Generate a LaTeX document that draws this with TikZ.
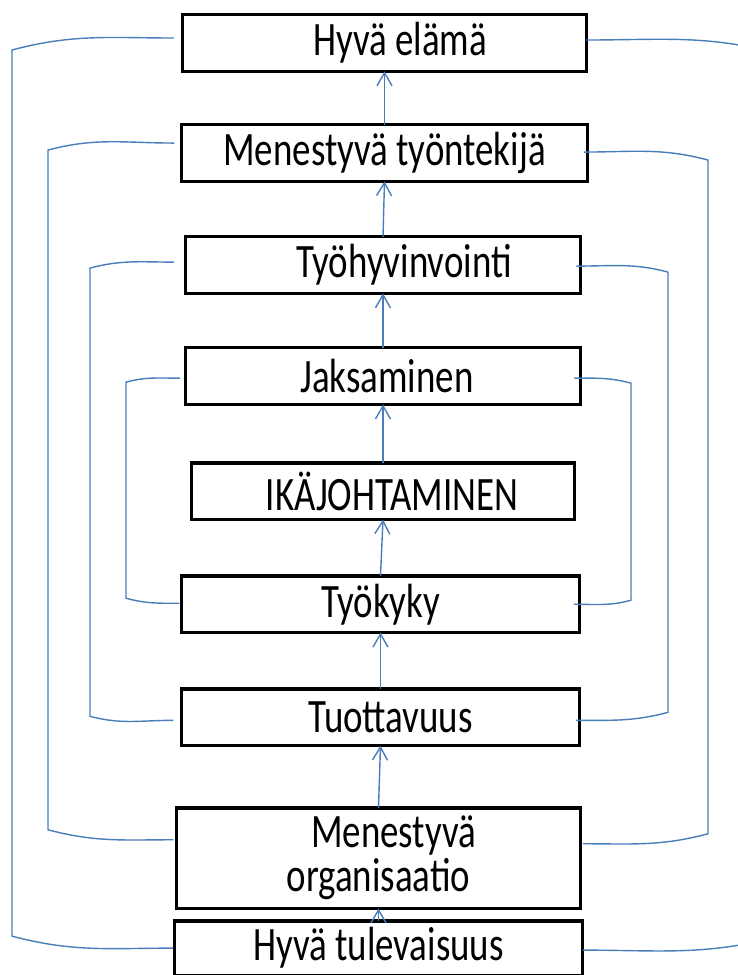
\documentclass[tikz,border=0pt]{standalone}
\usepackage{fontspec}
\setmainfont{Carlito}
\usepackage{graphicx}
\usetikzlibrary{arrows.meta, positioning, calc}
\definecolor{linkblue}{RGB}{74,126,187}
\newcommand{\tall}[1]{\scalebox{1}[1.3]{#1}}

\begin{document}
\begin{tikzpicture}[box/.style={draw, line width=1.9pt, fill=white, inner sep=0pt, outer sep=0pt,
			minimum height=1.134cm, font=\fontsize{21}{25}\selectfont},
		link/.style={draw=linkblue, line width=0.8pt},
		up/.style={link, -{Straight Barb[length=2.6mm, width=3mm]}}]

	\useasboundingbox (0,0) rectangle (14.76,-19.5);
	\clip (0,0) rectangle (14.76,-19.5);

	% Boxes, top to bottom
	\node (elama) [box, minimum width=8.07cm] at (7.69,-0.86) {\tall{\hspace*{0.62cm}Hyvä elämä}};
	\node (tyontekija) [box, minimum width=8.13cm, below=1.067cm of elama] {\tall{Menestyvä työntekijä}};
	\node (hyvinvointi) [box, minimum width=7.89cm, below=1.107cm of tyontekija, xshift=-0.03cm] {\tall{\hspace*{0.84cm}Työhyvinvointi}};
	\node (jaksaminen) [box, minimum width=7.89cm, below=1.087cm of hyvinvointi] {\tall{\hspace*{0.16cm}Jaksaminen}};
	\node (ika) [box, minimum width=7.67cm, below=1.167cm of jaksaminen] {\tall{\hspace*{0.36cm}IKÄJOHTAMINEN}};
	\node (tyokyky) [box, minimum width=7.97cm, below=1.127cm of ika, xshift=-0.05cm] {\tall{Työkyky}};
	\node (tuottavuus) [box, minimum width=7.97cm, below=1.127cm of tyokyky] {\tall{\hspace*{0.4cm}Tuottavuus}};
	\node (organisaatio) [box, minimum width=8.09cm, minimum height=1.953cm, below=1.247cm of tuottavuus, xshift=-0.04cm]
		{\tall{\begin{tabular}{@{}c@{}}\hspace*{0.6cm}Menestyvä\\[-6pt]organisaatio\end{tabular}}};
	\node (tulevaisuus) [box, minimum width=8.17cm, minimum height=1.09cm, below=0.247cm of organisaatio] {\tall{Hyvä tulevaisuus}};

	% Arrows between the boxes
	\draw[up] (tyontekija.north) -- (elama.south);
	\draw[up] (hyvinvointi.north) -- (tyontekija.south);
	\draw[up] (jaksaminen.north) -- (hyvinvointi.south);
	\draw[up] (ika.north) -- (jaksaminen.south);
	\draw[up] (tyokyky.north) -- (ika.south);
	\draw[up] (tuottavuus.north) -- (tyokyky.south);
	\draw[up] (organisaatio.north) -- (tuottavuus.south);
	\draw[up] (tulevaisuus.north) -- (organisaatio.south);

	% x positions of the side lines
	\coordinate (xa) at (0.24,0);
	\coordinate (xb) at (0.96,0);
	\coordinate (xc) at (1.8,0);
	\coordinate (xd) at (2.52,0);
	\coordinate (xe) at (12.62,0);
	\coordinate (xf) at (13.36,0);
	\coordinate (xg) at (14.16,0);
	\coordinate (xh) at (15.6,0);

	% Outer loop
	\draw[link] ([shift={(-0.18,0.1)}]elama.west) to[out=180,in=15] ($(elama.west -| xa)+(0,-0.14)$)
		-- ($(tulevaisuus.west -| xa)+(0,0.24)$) to[out=-15,in=180] ([xshift=-0.02cm]tulevaisuus.west);
	\draw[link] ([yshift=0.06cm]elama.east) to[out=0,in=165] ($(elama.east -| xh)+(0,-0.22)$)
		-- ($(tulevaisuus.east -| xh)+(0,0.24)$) to[out=195,in=0] ([yshift=-0.04cm]tulevaisuus.east);

	% Second loop
	\draw[link] ([shift={(-0.14,0.2)}]tyontekija.west) to[out=180,in=15] ($(tyontekija.west -| xb)+(0,0.06)$)
		-- ($(organisaatio.west -| xb)+(0,0.57)$) to[out=-15,in=180] ([shift={(-0.06,0.37)}]organisaatio.west);
	\draw[link] ([shift={(-0.08,0.02)}]tyontekija.east) to[out=0,in=165] ($(tyontekija.east -| xg)+(0,-0.14)$)
		-- ($(organisaatio.east -| xg)+(0,0.49)$) to[out=195,in=0] ([shift={(0.04,0.29)}]organisaatio.east);

	% Third loop
	\draw[link] ([shift={(-0.24,0.06)}]hyvinvointi.west) to[out=180,in=15] ($(hyvinvointi.west -| xc)+(0,-0.06)$)
		-- ($(tuottavuus.west -| xc)+(0,0.02)$) to[out=-15,in=180] ([shift={(-0.16,-0.06)}]tuottavuus.west);
	\draw[link] ([shift={(-0.08,-0.02)}]hyvinvointi.east) to[out=0,in=165] ($(hyvinvointi.east -| xf)+(0,-0.14)$)
		-- ($(tuottavuus.east -| xf)+(0,0.1)$) to[out=195,in=0] ([shift={(-0.08,-0.06)}]tuottavuus.east);

	% Inner loop
	\draw[link] ([shift={(-0.12,-0.04)}]jaksaminen.west) to[out=180,in=15] ($(jaksaminen.west -| xd)+(0,-0.12)$)
		-- ($(tyokyky.west -| xd)+(0,0.12)$) to[out=-15,in=180] ([shift={(-0.04,0.02)}]tyokyky.west);
	\draw[link] ([shift={(-0.12,-0.04)}]jaksaminen.east) to[out=0,in=165] ($(jaksaminen.east -| xe)+(0,-0.14)$)
		-- ($(tyokyky.east -| xe)+(0,0.08)$) to[out=195,in=0] ([xshift=-0.12cm]tyokyky.east);

\end{tikzpicture}
\end{document}
